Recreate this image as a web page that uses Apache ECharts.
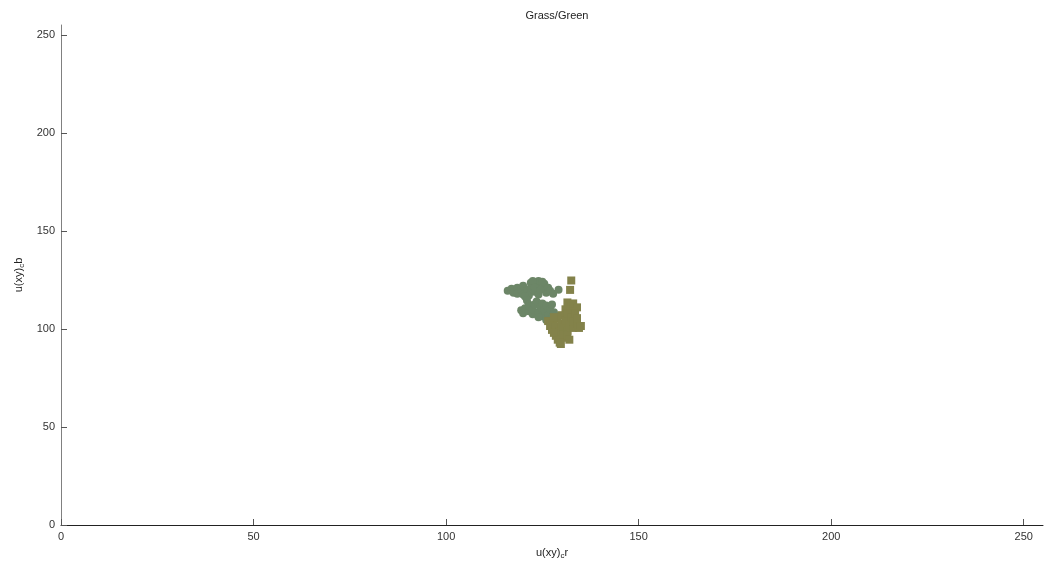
<!DOCTYPE html>
<html>
<head>
<meta charset="utf-8">
<script src="https://cdn.jsdelivr.net/npm/echarts@6/dist/echarts.min.js"></script>
<style>
html,body{margin:0;padding:0;background:#fff;}
#chart{width:1046px;height:565px;}
</style>
</head>
<body>
<div id="chart"></div>
<script>
const axisTicks = [0, 50, 100, 150, 200, 250];

// gray-green cloud (x = u(xy)_c r, y = u(xy)_c b)
const greenX = [116,117,117.5,118.5,118.5,119.5,120,120,121,122,122,121.5,123,123.5,124,124,125,125.5,126,126.5,127,127.8,122.5,125,120.5,123,124.5,121,121.5,129.2,
  119.5,120,120.5,121.5,121.5,122.5,122.5,123,123.5,124,124.5,125,125,125.5,126,126.5,127,127.5,127.5,128,128.5,124,126];
const greenY = [119.5,120.5,118.5,121,118,120,122,117.5,119.5,121,123.5,117,119,122.5,124.5,117.5,120.5,123,118.5,121,119.5,118,124.5,124,116.5,121,120,114.5,112.5,120,
  109.5,108,110.5,109,111.5,107.5,110,112.5,114,108.5,111,106.5,113,109.5,112,107,110,105.5,112.5,108.5,106.5,106,104.5];

// olive cloud
const oliveX = [132.5,132.2,131.5,132.5,133,134,131,133,
  126.5,127,127.5,128,128.5,129,129.5,130,130,130.5,131,131.5,131.5,132,132.5,133,133,133.5,134,134.5,135,134,128,
  128.5,129,129.5,130.5,130.5,131.5,132,128,129.8];
const oliveY = [124.7,119.9,113.5,111.5,113,111,110,109,
  104,101.5,99.5,103,101,105.5,98.5,102.5,107,100.5,104.5,108,99,102,106,100.5,104,108,102.5,100.5,101.5,105.5,106,
  96.5,94.5,93,95.5,97,96.5,94.5,98,92.3];

const green = greenX.map((x, i) => [x, greenY[i]]);
const olive = oliveX.map((x, i) => [x, oliveY[i]]);

const chart = echarts.init(document.getElementById('chart'));
const font = 'Liberation Sans, Arial, sans-serif';
const nameRich = {a: {fontFamily: font, fontSize: 11, color: '#222'}, s: {fontFamily: font, fontSize: 8, color: '#222', padding: [6, 0, 0, 0]}};
chart.setOption({
  animation: false,
  backgroundColor: '#ffffff',
  title: {
    text: 'Grass/Green',
    left: 552, top: 5, textAlign: 'center',
    textStyle: {fontFamily: font, fontSize: 11, fontWeight: 'normal', color: '#222'}
  },
  grid: {left: 61, right: 3, top: 25, bottom: 40, containLabel: false},
  xAxis: {
    type: 'value', min: 0, max: 255, interval: 50,
    name: '{a|u(xy)}{s|c}{a|r}', nameLocation: 'middle', nameGap: 21,
    nameTextStyle: {rich: nameRich},
    axisLine: {show: true, onZero: false, lineStyle: {color: '#222', width: 1}},
    axisTick: {show: true, inside: true, length: 6, customValues: axisTicks, lineStyle: {color: '#555'}},
    axisLabel: {fontFamily: font, fontSize: 11, color: '#333', margin: 6, customValues: axisTicks},
    splitLine: {show: false}
  },
  yAxis: {
    type: 'value', min: 0, max: 255, interval: 50,
    name: '{a|u(xy)}{s|c}{a|b}', nameLocation: 'middle', nameGap: 33, nameRotate: 90,
    nameTextStyle: {rich: nameRich},
    axisLine: {show: true, onZero: false, lineStyle: {color: '#808080', width: 1}},
    axisTick: {show: true, inside: true, length: 6, customValues: axisTicks, lineStyle: {color: '#555'}},
    axisLabel: {fontFamily: font, fontSize: 11, color: '#333', margin: 6, customValues: axisTicks},
    splitLine: {show: false}
  },
  series: [
    {type: 'scatter', data: green, symbol: 'circle', symbolSize: 8,
      itemStyle: {color: '#6c8667', opacity: 1}},
    {type: 'scatter', data: olive, symbol: 'rect', symbolSize: 8,
      itemStyle: {color: '#83824a', opacity: 1}}
  ]
});
</script>
</body>
</html>
